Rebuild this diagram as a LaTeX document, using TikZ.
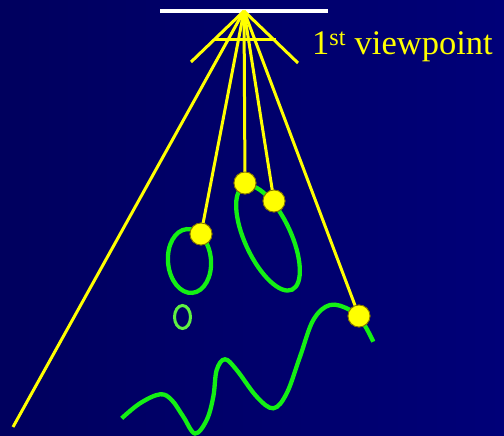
\documentclass[tikz,border=0pt]{standalone}
\usepackage{fontspec}
\setmainfont{Liberation Serif}
\begin{document}
\begin{tikzpicture}[x=1pt,y=1pt,
  ray/.style={draw=yellowray,line width=3pt},
  dotpt/.style={circle,fill=yellowray,draw=dotrim,line width=0.8pt,minimum size=22pt,inner sep=0pt},
  greenline/.style={draw=greencurve,line width=4.3pt}]
\definecolor{yellowray}{RGB}{255,255,0}
\definecolor{dotrim}{RGB}{128,112,0}
\definecolor{greencurve}{RGB}{20,240,20}
\definecolor{lightgreen}{RGB}{95,240,65}
\definecolor{bgleft}{RGB}{0,0,94}
\definecolor{bgright}{RGB}{0,0,120}
\useasboundingbox (0,0) rectangle (504,-436);
\shade[left color=bgleft,right color=bgright] (0,0) rectangle (504,-436);
% image plane
\coordinate (apex) at (244,-11);
\coordinate (planeL) at (160,-11);
\coordinate (planeR) at (328,-11);
\draw[white,line width=3.5pt] (planeL) -- (planeR);
% short frustum
\coordinate (fanL) at (191,-62);
\coordinate (fanR) at (298,-63);
\coordinate (barL) at (213.5,-40);
\coordinate (barR) at (275.5,-40);
\draw[ray] (apex) -- (fanL);
\draw[ray] (apex) -- (fanR);
\draw[ray] (barL) -- (barR);
% green shapes
\draw[greenline,rotate around={5:(189.5,-261)}] (189.5,-261) ellipse [x radius=21.5pt,y radius=32pt];
\draw[greenline,rotate around={-65:(268,-238)}] (268,-238) ellipse [x radius=57pt,y radius=23pt];
\draw[draw=lightgreen,line width=3pt] (182.5,-317) ellipse [x radius=8pt,y radius=11.5pt];
\draw[greenline,line cap=butt] plot[smooth,tension=0.6] coordinates {
 (121.7,-418.3) (140,-403.3) (160,-394.3) (171.7,-400) (183.3,-416.7) (195,-433.5)
 (206.7,-420) (213.3,-396.7) (216.7,-370) (225,-359.3) (236.7,-370) (256.7,-396.7)
 (273.3,-408.3) (286.7,-393.3) (300,-356.7) (313.3,-320) (330,-305) (350,-310)
 (363.3,-323.3) (373.3,-341.7)};
% rays
\coordinate (farL) at (13,-427);
\node[dotpt] (p1) at (201,-234) {};
\node[dotpt] (p2) at (245,-183) {};
\node[dotpt] (p3) at (274,-201) {};
\node[dotpt] (p4) at (359,-316) {};
\draw[ray] (apex) -- (farL);
\draw[ray] (apex) -- (p1.center);
\draw[ray] (apex) -- (p2.center);
\draw[ray] (apex) -- (p3.center);
\draw[ray] (apex) -- (p4.center);
\node[dotpt] at (p1) {};
\node[dotpt] at (p2) {};
\node[dotpt] at (p3) {};
\node[dotpt] at (p4) {};
% label
\node[anchor=base west,inner sep=0pt,text=yellowray,font=\fontsize{34.5}{40}\selectfont] (lbl) at (312,-55) {1\textsuperscript{st} viewpoint};
\end{tikzpicture}
\end{document}
